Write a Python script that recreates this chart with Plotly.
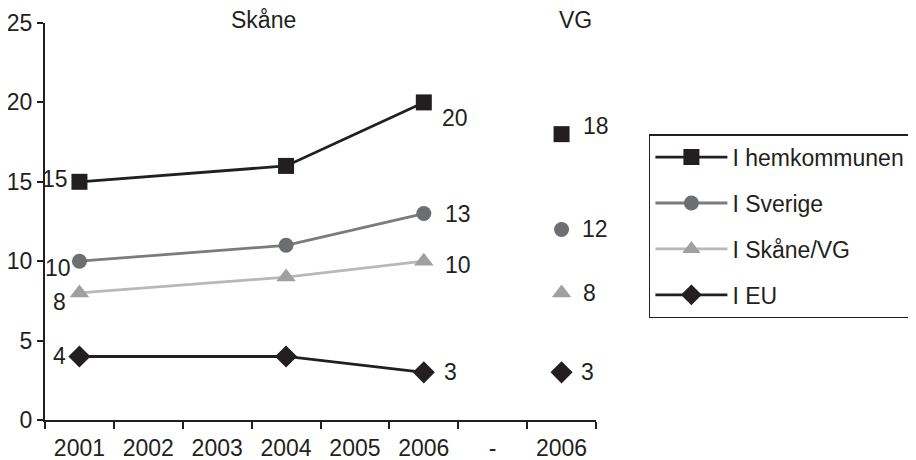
import plotly.graph_objects as go

# Category axis (ids must be unique, labels may repeat)
category_ids = ["2001", "2002", "2003", "2004", "2005", "2006", "-", "VG2006"]
tick_labels = ["2001", "2002", "2003", "2004", "2005", "2006", "-", "2006"]

skane_years = ["2001", "2004", "2006"]
vg_year = "VG2006"

series_names = ["I hemkommunen", "I Sverige", "I Skåne/VG", "I EU"]
hemkommunen = [15, 16, 20]
sverige = [10, 11, 13]
skane_vg = [8, 9, 10]
eu = [4, 4, 3]
vg_values = [18, 12, 8, 3]

yticks = [0, 5, 10, 15, 20, 25]

FONT = "Liberation Sans, Arial, Helvetica, sans-serif"
DARK = "#231f20"
FS = 23

styles = [
    dict(line="#231f20", marker="#231f20", symbol="square", size=16),
    dict(line="#7a7b7e", marker="#6d6e71", symbol="circle", size=15),
    dict(line="#b8b8b8", marker="#a0a0a0", symbol="triangle-up", size=17),
    dict(line="#231f20", marker="#231f20", symbol="diamond", size=17),
]

# label offsets (pixels) for first-year label, last-year label, VG label
label_offsets = [
    dict(first=(-9, 3), last=(16, -16), vg=(19, 8)),
    dict(first=(-6, -7), last=(19, 0), vg=(18, 0)),
    dict(first=(-11, -9), last=(19, -4), vg=(19, 0)),
    dict(first=(-11, 0), last=(18, 0), vg=(17, 0)),
]

all_series = [hemkommunen, sverige, skane_vg, eu]


def cat_pos(cat):
    return category_ids.index(cat)


fig = go.Figure()
annotations = []
for i, (name, vals) in enumerate(zip(series_names, all_series)):
    st = styles[i]
    fig.add_trace(go.Scatter(
        x=skane_years, y=vals, name=name, mode="lines+markers",
        line=dict(color=st["line"], width=2.8),
        marker=dict(color=st["marker"], symbol=st["symbol"], size=st["size"],
                    line=dict(width=0)),
        legendgroup=name, cliponaxis=False,
    ))
    fig.add_trace(go.Scatter(
        x=[vg_year], y=[vg_values[i]], name=name, mode="markers",
        marker=dict(color=st["marker"], symbol=st["symbol"], size=st["size"],
                    line=dict(width=0)),
        legendgroup=name, showlegend=False, cliponaxis=False,
    ))
    off = label_offsets[i]
    annotations.append(dict(x=cat_pos(skane_years[0]), y=vals[0], text=str(vals[0]),
                            xanchor="right", yanchor="middle", showarrow=False,
                            xshift=off["first"][0], yshift=off["first"][1]))
    annotations.append(dict(x=cat_pos(skane_years[-1]), y=vals[-1], text=str(vals[-1]),
                            xanchor="left", yanchor="middle", showarrow=False,
                            xshift=off["last"][0], yshift=off["last"][1]))
    annotations.append(dict(x=cat_pos(vg_year), y=vg_values[i], text=str(vg_values[i]),
                            xanchor="left", yanchor="middle", showarrow=False,
                            xshift=off["vg"][0], yshift=off["vg"][1]))

for a in annotations:
    a["font"] = dict(family=FONT, size=FS, color=DARK)

annotations.append(dict(xref="paper", yref="paper", x=0.396, y=1.008, text="Skåne",
                        showarrow=False, xanchor="center", yanchor="middle",
                        font=dict(family=FONT, size=FS, color=DARK)))
annotations.append(dict(xref="paper", yref="paper", x=0.962, y=1.008, text="VG",
                        showarrow=False, xanchor="center", yanchor="middle",
                        font=dict(family=FONT, size=FS, color=DARK)))

# page body has an 8px margin, so the figure is sized/offset to compensate
fig.update_layout(
    width=908, height=452,
    margin=dict(l=37, r=320, t=15, b=40, autoexpand=False),
    paper_bgcolor="white", plot_bgcolor="white",
    font=dict(family=FONT, size=FS, color=DARK),
    showlegend=True,
    legend=dict(x=1.096, y=0.72, xanchor="left", yanchor="top",
                bordercolor=DARK, borderwidth=1.5, bgcolor="white",
                font=dict(family=FONT, size=FS, color=DARK),
                tracegroupgap=13, itemwidth=72),
    annotations=annotations,
    xaxis=dict(type="category", categoryorder="array", categoryarray=category_ids,
               tickvals=category_ids, ticktext=tick_labels,
               range=[-0.5, len(category_ids) - 0.5], automargin=False,
               tickson="boundaries", ticks="outside", ticklen=7, tickwidth=1.5,
               tickcolor=DARK, showline=True, linecolor=DARK, linewidth=2,
               showgrid=False, zeroline=False, ticklabelstandoff=6,
               tickfont=dict(family=FONT, size=FS, color=DARK)),
    yaxis=dict(range=[0, 25], tickvals=yticks, ticks="outside", ticklen=6,
               tickwidth=1.5, tickcolor=DARK, showline=True, linecolor=DARK,
               linewidth=2, showgrid=False, zeroline=False, automargin=False,
               tickfont=dict(family=FONT, size=FS, color=DARK)),
)

fig.write_html("out.html")
